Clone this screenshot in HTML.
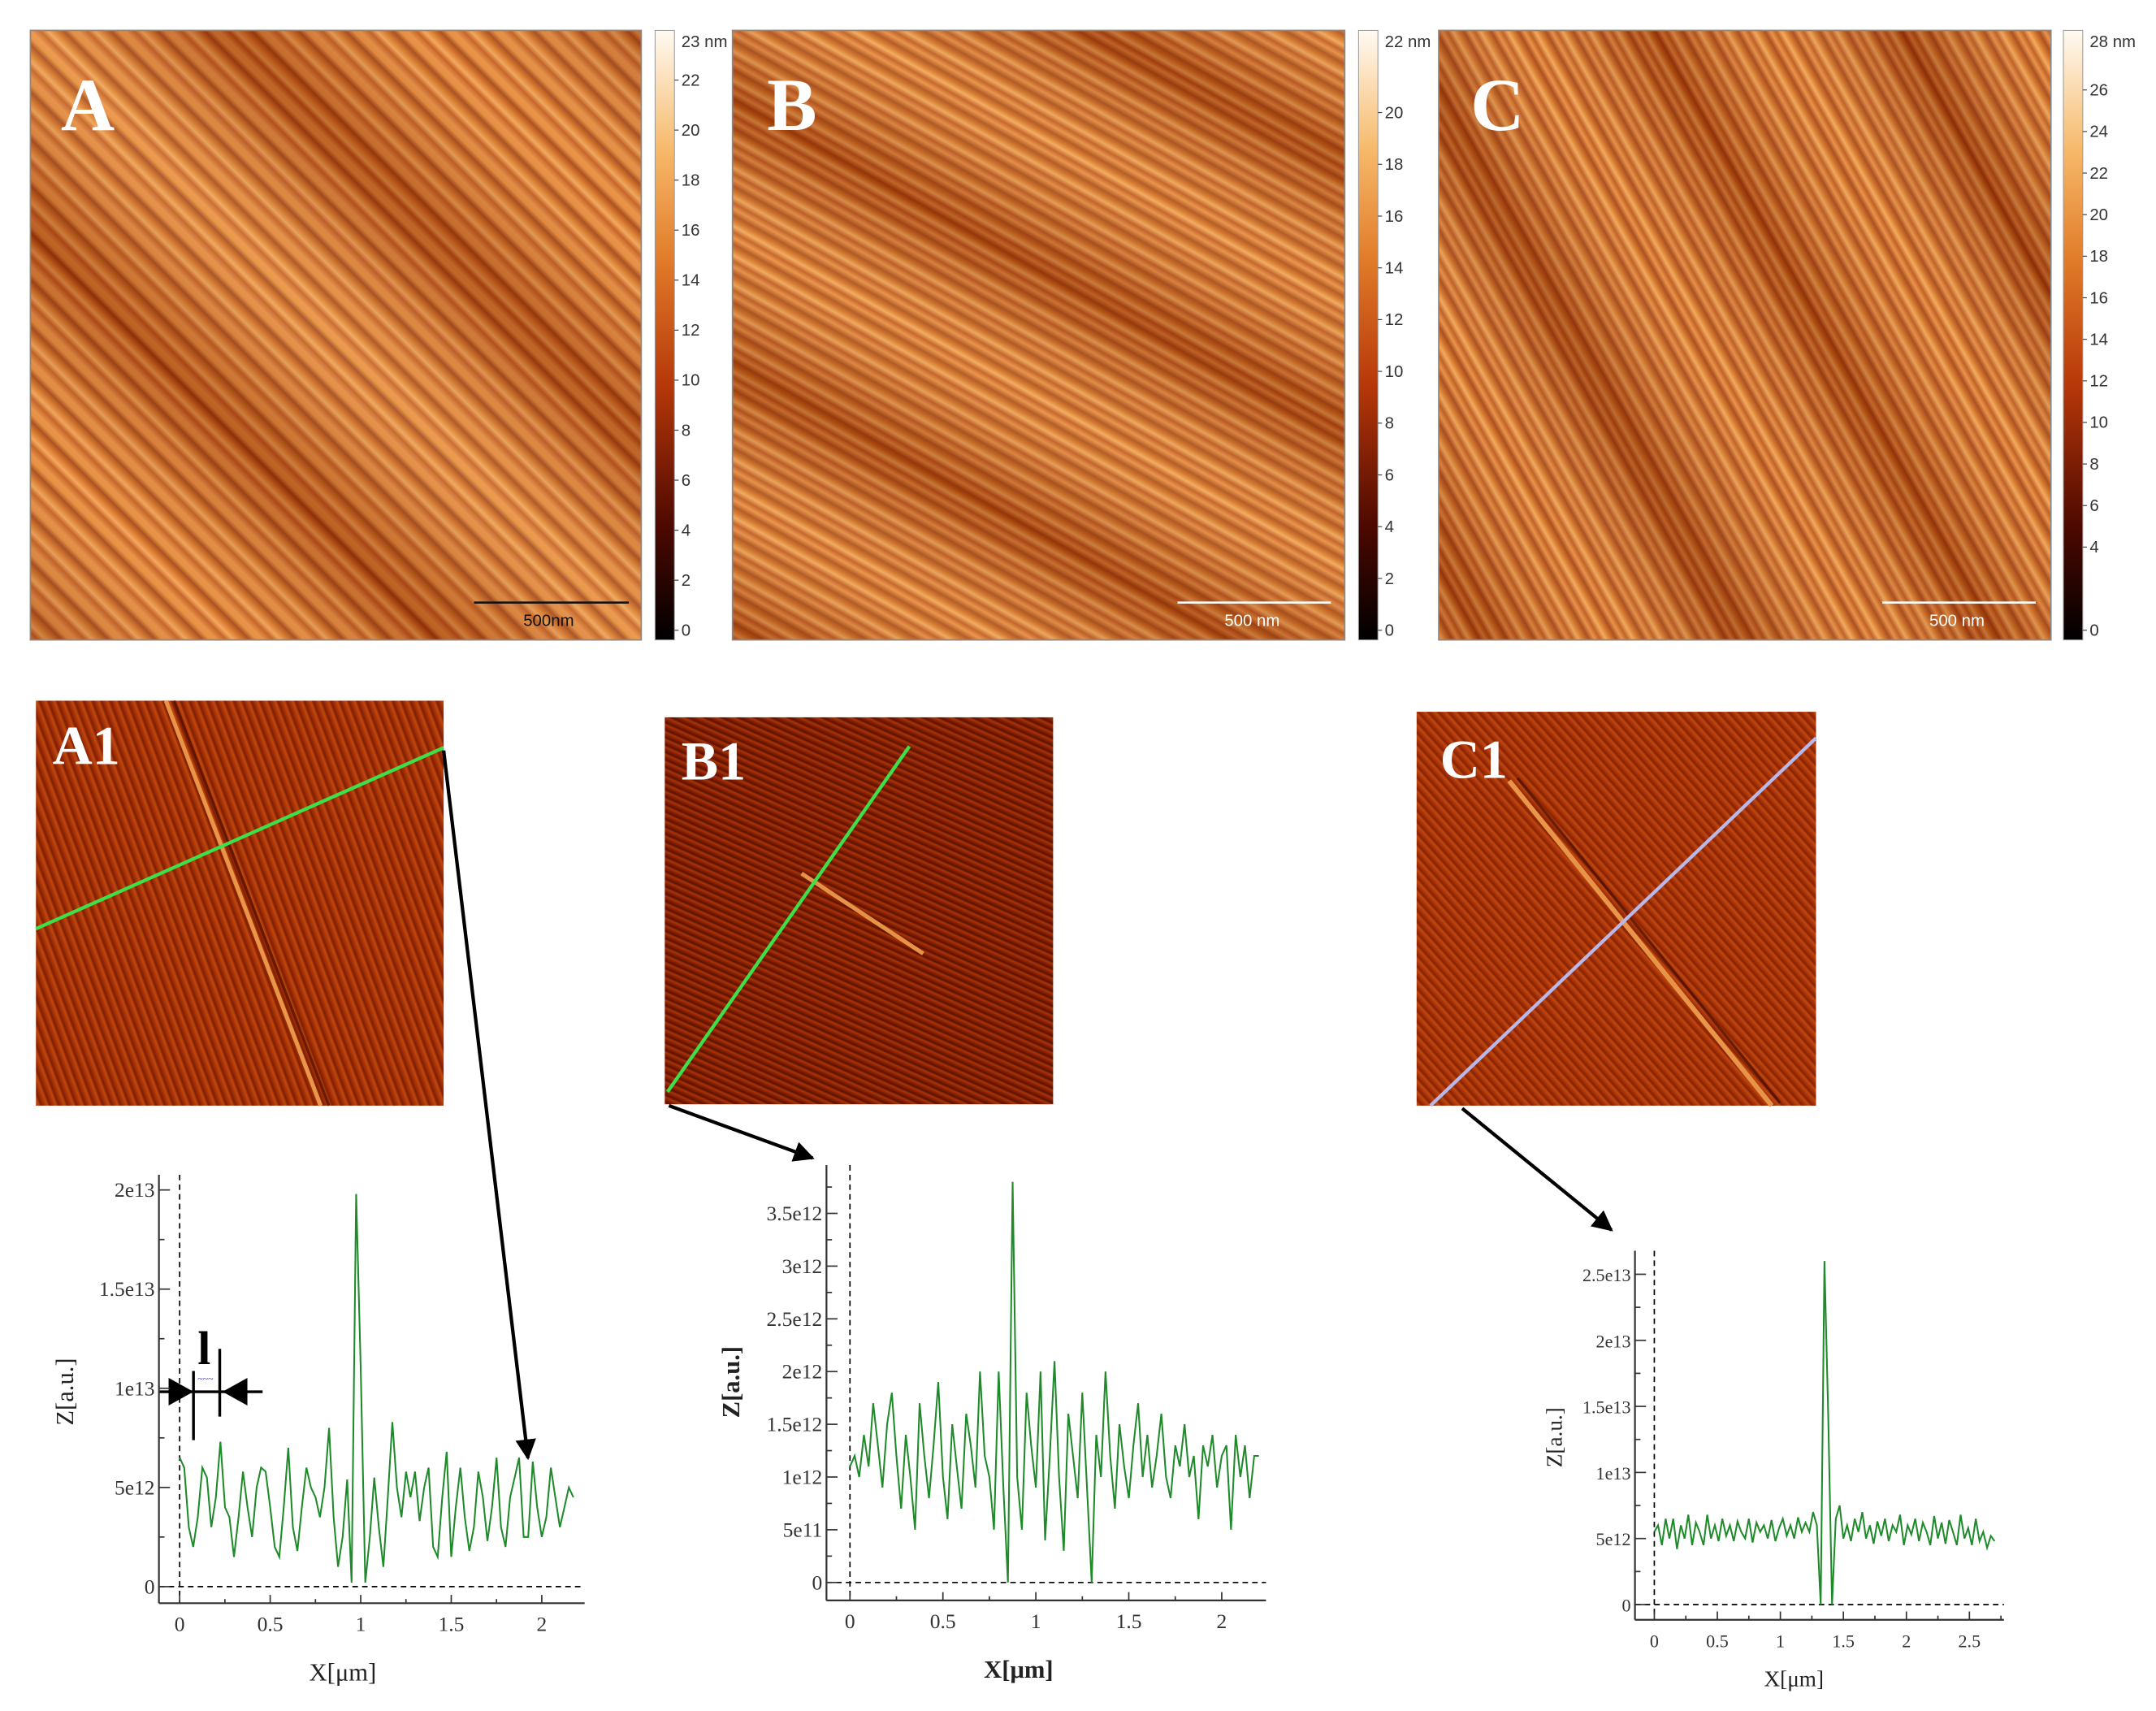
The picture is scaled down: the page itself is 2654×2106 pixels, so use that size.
<!DOCTYPE html>
<html><head><meta charset="utf-8"><style>
html,body{margin:0;padding:0;background:#fff;}
svg{display:block;}
</style></head><body>
<svg id="fig" width="2654" height="2106" viewBox="0 0 1560 1238" preserveAspectRatio="none" xmlns="http://www.w3.org/2000/svg" font-family="'Liberation Serif', serif">
<defs>
  <linearGradient id="cbar" x1="0" y1="1" x2="0" y2="0">
    <stop offset="0" stop-color="#000"/><stop offset="0.18" stop-color="#4a0800"/>
    <stop offset="0.42" stop-color="#b8380a"/><stop offset="0.62" stop-color="#e07a28"/>
    <stop offset="0.8" stop-color="#f6b868"/><stop offset="1" stop-color="#fffaf2"/>
  </linearGradient>
  <linearGradient id="sA" gradientUnits="userSpaceOnUse" x1="0" y1="0" x2="17" y2="-17" spreadMethod="repeat">
    <stop offset="0" stop-color="#e8883a"/><stop offset="0.2" stop-color="#bf5214"/><stop offset="0.35" stop-color="#f2a050"/>
    <stop offset="0.55" stop-color="#d06618"/><stop offset="0.7" stop-color="#a03c0c"/><stop offset="0.85" stop-color="#e48432"/><stop offset="1" stop-color="#e8883a"/>
  </linearGradient>
  <linearGradient id="bA" gradientUnits="userSpaceOnUse" x1="0" y1="480" x2="240" y2="240" spreadMethod="reflect">
    <stop offset="0" stop-color="#6a1800" stop-opacity="0.4"/><stop offset="0.4" stop-color="#fff0c0" stop-opacity="0.12"/>
    <stop offset="0.7" stop-color="#6a1800" stop-opacity="0.35"/><stop offset="1" stop-color="#fff0c0" stop-opacity="0.18"/>
  </linearGradient>
  <linearGradient id="sB" gradientUnits="userSpaceOnUse" x1="0" y1="0" x2="9" y2="-16" spreadMethod="repeat">
    <stop offset="0" stop-color="#e8883a"/><stop offset="0.2" stop-color="#bc5014"/><stop offset="0.4" stop-color="#f2a252"/>
    <stop offset="0.6" stop-color="#d06818"/><stop offset="0.78" stop-color="#a8440e"/><stop offset="1" stop-color="#e8883a"/>
  </linearGradient>
  <linearGradient id="bB" gradientUnits="userSpaceOnUse" x1="530" y1="460" x2="610" y2="310" spreadMethod="reflect">
    <stop offset="0" stop-color="#6a1800" stop-opacity="0.35"/><stop offset="0.5" stop-color="#fff0c0" stop-opacity="0.15"/><stop offset="1" stop-color="#6a1800" stop-opacity="0.35"/>
  </linearGradient>
  <linearGradient id="sC" gradientUnits="userSpaceOnUse" x1="0" y1="0" x2="15" y2="-8.5" spreadMethod="repeat">
    <stop offset="0" stop-color="#e8883a"/><stop offset="0.2" stop-color="#b84e12"/><stop offset="0.4" stop-color="#f2a252"/>
    <stop offset="0.6" stop-color="#d06818"/><stop offset="0.8" stop-color="#a03a0c"/><stop offset="1" stop-color="#e8883a"/>
  </linearGradient>
  <linearGradient id="bC" gradientUnits="userSpaceOnUse" x1="1041" y1="400" x2="1180" y2="322" spreadMethod="reflect">
    <stop offset="0" stop-color="#6a1800" stop-opacity="0.35"/><stop offset="0.5" stop-color="#fff0c0" stop-opacity="0.12"/><stop offset="1" stop-color="#6a1800" stop-opacity="0.4"/>
  </linearGradient>
  <linearGradient id="s1A" gradientUnits="userSpaceOnUse" x1="0" y1="0" x2="5.6" y2="-2.1" spreadMethod="repeat">
    <stop offset="0" stop-color="#a02e06"/><stop offset="0.4" stop-color="#c0480e"/><stop offset="0.7" stop-color="#801e02"/><stop offset="1" stop-color="#a02e06"/>
  </linearGradient>
  <linearGradient id="s1B" gradientUnits="userSpaceOnUse" x1="0" y1="0" x2="2" y2="-4.5" spreadMethod="repeat">
    <stop offset="0" stop-color="#7e1c00"/><stop offset="0.4" stop-color="#a6340a"/><stop offset="0.7" stop-color="#5e1200"/><stop offset="1" stop-color="#7e1c00"/>
  </linearGradient>
  <linearGradient id="s1C" gradientUnits="userSpaceOnUse" x1="0" y1="0" x2="4" y2="-3.6" spreadMethod="repeat">
    <stop offset="0" stop-color="#a43008"/><stop offset="0.4" stop-color="#c04810"/><stop offset="0.7" stop-color="#862202"/><stop offset="1" stop-color="#a43008"/>
  </linearGradient>
  <marker id="ah" viewBox="0 0 10 10" refX="9" refY="5" markerWidth="6" markerHeight="6" orient="auto">
    <path d="M0,0 L10,5 L0,10 z" fill="#000"/>
  </marker>
</defs>

<g>
  <rect x="22" y="22" width="442" height="441" fill="url(#sA)"/>
  <rect x="22" y="22" width="442" height="441" fill="url(#bA)"/>
  <rect x="22" y="22" width="442" height="441" fill="none" stroke="#888" stroke-width="1"/>
  <text x="44" y="94" font-size="54" font-weight="bold" fill="#fff">A</text>
  <line x1="343" y1="436" x2="455" y2="436" stroke="#111" stroke-width="1.5"/>
  <text x="397" y="453" font-size="12" font-family="'Liberation Sans',sans-serif" text-anchor="middle" fill="#111">500nm</text>
</g>
<g>
  <rect x="530" y="22" width="443" height="441" fill="url(#sB)"/>
  <rect x="530" y="22" width="443" height="441" fill="url(#bB)"/>
  <rect x="530" y="22" width="443" height="441" fill="none" stroke="#888" stroke-width="1"/>
  <text x="555" y="94" font-size="54" font-weight="bold" fill="#fff">B</text>
  <line x1="852" y1="436" x2="963" y2="436" stroke="#fff" stroke-width="1.5"/>
  <text x="906" y="453" font-size="12" font-family="'Liberation Sans',sans-serif" text-anchor="middle" fill="#fff">500 nm</text>
</g>
<g>
  <rect x="1041" y="22" width="443" height="441" fill="url(#sC)"/>
  <rect x="1041" y="22" width="443" height="441" fill="url(#bC)"/>
  <rect x="1041" y="22" width="443" height="441" fill="none" stroke="#888" stroke-width="1"/>
  <text x="1064" y="94" font-size="54" font-weight="bold" fill="#fff">C</text>
  <line x1="1362" y1="436" x2="1473" y2="436" stroke="#fff" stroke-width="1.5"/>
  <text x="1416" y="453" font-size="12" font-family="'Liberation Sans',sans-serif" text-anchor="middle" fill="#fff">500 nm</text>
</g>
<g id="cbars"></g>

<g>
  <rect x="26" y="507" width="295" height="293" fill="url(#s1A)"/>
  <line x1="120" y1="507" x2="232" y2="800" stroke="#f0a050" stroke-width="3" opacity="0.9"/>
  <line x1="126" y1="507" x2="238" y2="800" stroke="#4a0c00" stroke-width="2" opacity="0.7"/>
  <line x1="26" y1="672" x2="321" y2="541" stroke="#3ee04a" stroke-width="2.5"/>
  <text x="38" y="553" font-size="40" font-weight="bold" fill="#fff">A1</text>
</g>
<g>
  <rect x="481" y="519" width="281" height="280" fill="url(#s1B)"/>
  <line x1="580" y1="632" x2="668" y2="690" stroke="#f0a050" stroke-width="3" opacity="0.9"/>
  <line x1="483" y1="790" x2="658" y2="540" stroke="#3ee04a" stroke-width="2.5"/>
  <text x="493" y="564" font-size="40" font-weight="bold" fill="#fff">B1</text>
</g>
<g>
  <rect x="1025" y="515" width="289" height="285" fill="url(#s1C)"/>
  <line x1="1092" y1="565" x2="1282" y2="800" stroke="#f0a050" stroke-width="3.5" opacity="0.9"/>
  <line x1="1098" y1="563" x2="1288" y2="798" stroke="#3a0800" stroke-width="2" opacity="0.6"/>
  <line x1="1035" y1="800" x2="1314" y2="534" stroke="#b8b8ea" stroke-width="2.5"/>
  <text x="1042" y="563" font-size="40" font-weight="bold" fill="#fff">C1</text>
</g>

<line x1="321" y1="543" x2="382" y2="1055" stroke="#000" stroke-width="2.5" marker-end="url(#ah)"/>
<line x1="484" y1="800" x2="588" y2="838" stroke="#000" stroke-width="2.5" marker-end="url(#ah)"/>
<line x1="1058" y1="802" x2="1166" y2="890" stroke="#000" stroke-width="2.5" marker-end="url(#ah)"/>

<g>
  <text x="143" y="987" font-size="34" font-weight="bold" fill="#000">l</text>
  <line x1="140" y1="992" x2="140" y2="1042" stroke="#000" stroke-width="2"/>
  <line x1="159" y1="976" x2="159" y2="1025" stroke="#000" stroke-width="2"/>
  <line x1="115" y1="1007" x2="190" y2="1007" stroke="#000" stroke-width="2"/>
  <path d="M122,997 L140,1007 L122,1017 z M179,997 L161,1007 L179,1017 z" fill="#000"/>
  <text x="143" y="1000" font-size="7" fill="#33c">~~~</text>
</g>

<g id="plots"></g>
</svg>
<script>
// ---- chart data (values in units of 1e12 a.u.) ----
const a1Step = 0.025;
const a1Values = [6.5,6,3,2,3.5,6,5.5,3,4.5,7.3, 4,3.5,1.5,3.5,5.8,4,2.5,5,6,5.8, 4,2,1.5,4,7,3,1.8,4,6,5,
  4.5,3.5,5,8,3.5,1,2.5,5.4,0.2,19.8, 11,0.2,2.5,5.5,3,1,4.5,8.3,5,3.5, 5.8,4.5,5.8,3.3,5,6,2,1.5,4.5,6.8,
  1.5,4,6,3.5,1.8,3,5.8,4.5,2.3,4, 6.5,3,2,4.5,5.5,6.5,2.5,2.5,6.3,4, 2.5,3.5,6,4.5,3,4,5,4.5];
const a1XTicks = [0,0.5,1,1.5,2];
const a1XTickLabels = ["0","0.5","1","1.5","2"];
const a1YTicks = [0,5,10,15,20];
const a1YTickLabels = ["0","5e12","1e13","1.5e13","2e13"];

const b1Step = 0.025;
const b1Values = [1.1,1.2,1.0,1.4,1.1,1.7,1.3,0.9,1.5,1.8, 1.2,0.7,1.4,1.0,0.5,1.7,1.2,0.8,1.3,1.9,
  1.0,0.6,1.5,1.1,0.7,1.6,1.3,0.9,2.0,1.2, 1.0,0.5,2.0,0.9,0.0,3.8,1.0,0.5,1.8,1.3, 0.9,2.0,0.4,1.2,2.1,1.0,0.3,1.6,1.2,0.8,
  1.8,0.9,0.0,1.4,1.0,2.0,1.2,0.7,1.5,1.1, 0.8,1.3,1.7,1.0,1.4,0.9,1.2,1.6,1.0,0.8, 1.3,1.1,1.5,1.0,1.2,0.6,1.3,1.1,1.4,0.9,
  1.2,1.3,0.5,1.4,1.0,1.3,0.8,1.2,1.2];
const b1XTicks = [0,0.5,1,1.5,2];
const b1XTickLabels = ["0","0.5","1","1.5","2"];
const b1YTicks = [0,0.5,1,1.5,2,2.5,3,3.5];
const b1YTickLabels = ["0","5e11","1e12","1.5e12","2e12","2.5e12","3e12","3.5e12"];

const c1Step = 0.03;
const c1Values = [5.5,6,4.5,6.5,5,6.5,4.2,6,5,6.8, 4.5,6.2,5.5,4.5,6.8,5,6,4.8,6.5,5.2, 6,4.8,6.3,5.5,5,6.5,4.7,6.2,5.5,6,
  5,6.4,4.8,5.8,6.5,5.2,6,5,6.6,5.5, 6.2,5.5,7,6,0,26,14,0,6.5,7.5, 5,6,4.8,6.5,5.5,7,5,6,4.6,6.3,
  5.2,6.5,4.8,6,5.5,6.8,4.5,6,5.3,6.5, 4.8,6.2,5.5,4.5,6.7,5,6.2,4.6,6.4,5.5, 4.5,6.8,5,5.8,4.5,6.5,4.8,5.5,4.3,5.2,4.8];
const c1XTicks = [0,0.5,1,1.5,2,2.5];
const c1XTickLabels = ["0","0.5","1","1.5","2","2.5"];
const c1YTicks = [0,5,10,15,20,25];
const c1YTickLabels = ["0","5e12","1e13","1.5e13","2e13","2.5e13"];

const cbATicks = [0,2,4,6,8,10,12,14,16,18,20,22];
const cbBTicks = [0,2,4,6,8,10,12,14,16,18,20];
const cbCTicks = [0,4,6,8,10,12,14,16,18,20,22,24,26];

const NS = "http://www.w3.org/2000/svg";
function mk(tag, attrs, parent){const e=document.createElementNS(NS,tag);for(const k in attrs)e.setAttribute(k,attrs[k]);parent.appendChild(e);return e;}

function colorbar(x, top, bottom, maxVal, ticks, unitLabel, name){
  const g = mk('g',{},document.getElementById('cbars'));
  
  
  mk('rect',{x:x,y:top,width:14,height:bottom-top,fill:'url(#cbar)',stroke:'#999','stroke-width':0.6},g);
  const yv = v => bottom - 7 - (v/maxVal)*(bottom - top - 14);
  ticks.forEach(v=>{
    const y=yv(v);
    mk('line',{x1:x+14,y1:y,x2:x+17,y2:y,stroke:'#444','stroke-width':0.7},g);
    const t=mk('text',{x:x+19,y:y+4,'font-size':12,'font-family':"'Liberation Sans',sans-serif",fill:'#333'},g);
    t.textContent=v;
  });
  const t=mk('text',{x:x+19,y:top+12,'font-size':12,'font-family':"'Liberation Sans',sans-serif",fill:'#333'},g);
  t.textContent=unitLabel;
}
colorbar(474,22,463,23.6,cbATicks,'23 nm','colorbar-a');
colorbar(983,22,463,22.8,cbBTicks,'22 nm','colorbar-b');
colorbar(1493,22,463,28.4,cbCTicks,'28 nm','colorbar-c');

function plot(cfg){
  const g = mk('g',{},document.getElementById('plots'));
  
  
  const X = v => cfg.x0 + v*cfg.sx;
  const Y = v => cfg.y0 - v*cfg.sy;
  mk('line',{x1:X(0),y1:cfg.top,x2:X(0),y2:cfg.axisY,stroke:'#000','stroke-width':1,'stroke-dasharray':'4,3'},g);
  mk('line',{x1:cfg.axisX,y1:Y(0),x2:cfg.right,y2:Y(0),stroke:'#000','stroke-width':1,'stroke-dasharray':'4,3'},g);
  const ya = mk('line',{x1:cfg.axisX,y1:cfg.top,x2:cfg.axisX,y2:cfg.axisY,stroke:'#333','stroke-width':1.3},g);
  
  
  const xa = mk('line',{x1:cfg.axisX,y1:cfg.axisY,x2:cfg.right,y2:cfg.axisY,stroke:'#333','stroke-width':1.3},g);
  
  
  const dx = cfg.xt[1]-cfg.xt[0], dy = cfg.yt[1]-cfg.yt[0];
  cfg.xt.forEach((v,i)=>{
    mk('line',{x1:X(v),y1:cfg.axisY,x2:X(v),y2:cfg.axisY-6,stroke:'#333','stroke-width':1},g);
    const m=X(v+dx/2); if(m < cfg.right) mk('line',{x1:m,y1:cfg.axisY,x2:m,y2:cfg.axisY-3,stroke:'#333','stroke-width':1},g);
    const t=mk('text',{x:X(v),y:cfg.axisY+20,'font-size':cfg.fs,'text-anchor':'middle',fill:'#333'},g);
    
    
    t.textContent=cfg.xl[i];
  });
  cfg.yt.forEach((v,i)=>{
    mk('line',{x1:cfg.axisX,y1:Y(v),x2:cfg.axisX+8,y2:Y(v),stroke:'#333','stroke-width':1},g);
    const m=Y(v+dy/2); if(m > cfg.top) mk('line',{x1:cfg.axisX,y1:m,x2:cfg.axisX+4,y2:m,stroke:'#333','stroke-width':1},g);
    const t=mk('text',{x:cfg.axisX-3,y:Y(v)+5,'font-size':cfg.fs,'text-anchor':'end',fill:'#333'},g);
    
    
    t.textContent=cfg.yl[i];
  });
  const pts = cfg.vals.map((v,i)=>X(i*cfg.step).toFixed(1)+','+Y(v).toFixed(1)).join(' ');
  const pl = mk('polyline',{points:pts,fill:'none',stroke:'#1e8a2a','stroke-width':1.2},g);
  
  
  const xt=mk('text',{x:cfg.xlab[0],y:cfg.xlab[1],'font-size':cfg.fs+3,'text-anchor':'middle',fill:'#222','font-weight':cfg.bold?'bold':'normal'},g);
  
  
  xt.textContent='X[μm]';
  const yt=mk('text',{x:cfg.ylab[0],y:cfg.ylab[1],'font-size':cfg.fs+3,'text-anchor':'middle',fill:'#222','font-weight':cfg.bold?'bold':'normal',transform:'rotate(-90 '+cfg.ylab[0]+' '+cfg.ylab[1]+')'},g);
  
  
  yt.textContent='Z[a.u.]';
}
plot({name:'profile-chart-a1',x0:130,sx:131,y0:1148,sy:14.35,axisX:115,axisY:1160,top:850,right:423,
  vals:a1Values,step:a1Step,xt:a1XTicks,xl:a1XTickLabels,yt:a1YTicks,yl:a1YTickLabels,fs:15,xlab:[248,1216],ylab:[53,1007]});
plot({name:'profile-chart-b1',x0:615,sx:134.5,y0:1145,sy:76.3,axisX:598,axisY:1158,top:843,right:916,
  vals:b1Values,step:b1Step,xt:b1XTicks,xl:b1XTickLabels,yt:b1YTicks,yl:b1YTickLabels,fs:15,xlab:[737,1214],ylab:[535,1000],bold:true});
plot({name:'profile-chart-c1',x0:1197,sx:91.2,y0:1161,sy:9.56,axisX:1183,axisY:1172,top:905,right:1450,
  vals:c1Values,step:c1Step,xt:c1XTicks,xl:c1XTickLabels,yt:c1YTicks,yl:c1YTickLabels,fs:13,xlab:[1298,1220],ylab:[1130,1040]});
</script>
</body></html>
